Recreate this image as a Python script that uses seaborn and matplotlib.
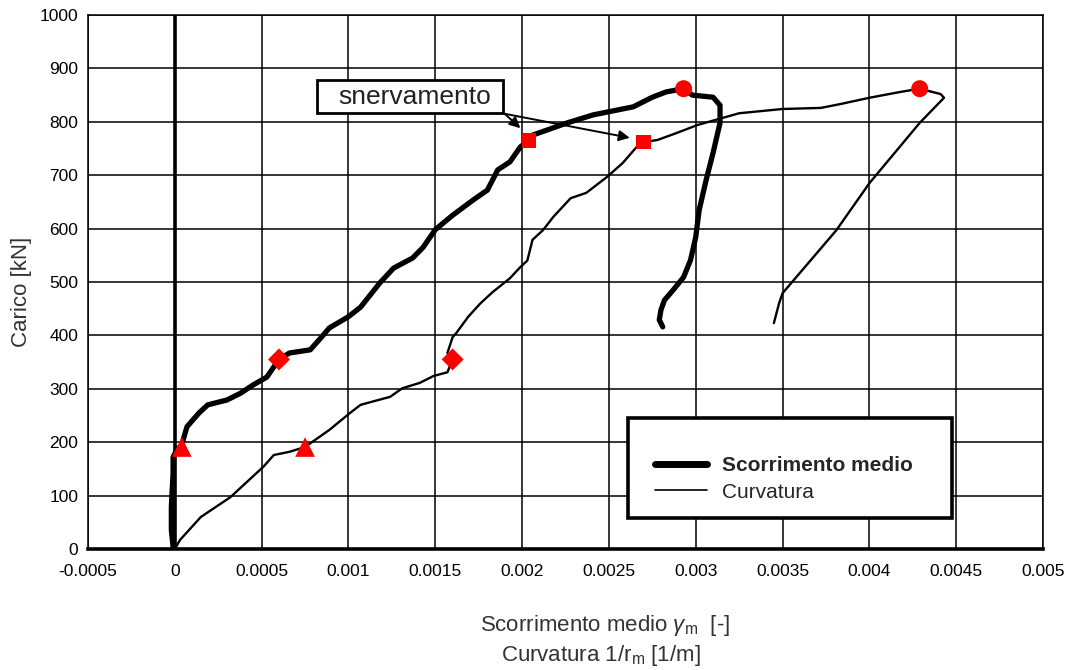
import matplotlib
matplotlib.use("Agg")
import matplotlib.pyplot as plt
from matplotlib.lines import Line2D
from matplotlib.patches import Rectangle
import numpy as np
import pandas as pd
import seaborn as sns

# Scorrimento medio (gamma_m) vs carico
scorr_x = [0, -0.00001, -0.00002, -0.00002, -0.00001, -0.00001, 0.00001, 0.00004,
           0.00007, 0.00014, 0.00019, 0.0003, 0.00038, 0.00045, 0.00053, 0.0006,
           0.00066, 0.00078, 0.00084, 0.00089, 0.001, 0.00107, 0.00118, 0.00126,
           0.00137, 0.00143, 0.0015, 0.0016, 0.00172, 0.0018, 0.00186, 0.00193,
           0.00199, 0.00204, 0.00206, 0.00226, 0.00241, 0.00264, 0.00275, 0.00283,
           0.00293, 0.00298, 0.0031, 0.00314, 0.00314, 0.0031, 0.00306, 0.00302,
           0.003, 0.00297, 0.00293, 0.00287, 0.00282, 0.0028, 0.00279, 0.00281]
scorr_y = [0, 4, 36, 79, 142, 172, 185, 195,
           229, 255, 270, 279, 292, 307, 322, 355,
           367, 373, 395, 414, 435, 453, 498, 526,
           545, 565, 598, 625, 654, 672, 710, 725,
           753, 765, 775, 798, 813, 828, 846, 856,
           862, 850, 846, 831, 798, 742, 691, 635,
           584, 541, 509, 485, 466, 448, 429, 416]

# Curvatura 1/r_m vs carico
curv_x = [0, 0.00003, 0.00015, 0.00032, 0.00051, 0.00057, 0.00066, 0.00075,
          0.00089, 0.00101, 0.00107, 0.00124, 0.00131, 0.00141, 0.00149, 0.00157,
          0.0016, 0.00157, 0.0016, 0.00162, 0.00169, 0.00176, 0.00183, 0.00193,
          0.00199, 0.00203, 0.00206, 0.00212, 0.00218, 0.00228, 0.00237, 0.00249,
          0.00258, 0.00266, 0.0027, 0.00278, 0.00289, 0.00301, 0.00325, 0.0035,
          0.00372, 0.00383, 0.004, 0.00418, 0.00429, 0.00441, 0.00443, 0.00429,
          0.004, 0.00381, 0.0035, 0.00348, 0.00345]
curv_y = [0, 17, 60, 97, 154, 176, 182, 191,
          223, 255, 270, 285, 301, 311, 324, 331,
          355, 367, 397, 404, 435, 460, 481, 507,
          528, 540, 579, 597, 622, 657, 667, 697,
          723, 753, 762, 766, 779, 794, 816, 824,
          826, 833, 845, 856, 862, 852, 845, 798,
          685, 597, 479, 460, 423]

# Punti notevoli (triangolo, rombo, quadrato = snervamento, cerchio = massimo)
key_stage = ["tri", "dia", "sq", "circ", "tri", "dia", "sq", "circ"]
key_x = [0.00004, 0.0006, 0.00204, 0.00293, 0.00075, 0.0016, 0.0027, 0.00429]
key_y = [191, 355, 765, 862, 191, 355, 762, 862]

x_ticks = [-0.0005, 0, 0.0005, 0.001, 0.0015, 0.002, 0.0025, 0.003, 0.0035,
           0.004, 0.0045, 0.005]
x_tick_labels = ["-0.0005", "0", "0.0005", "0.001", "0.0015", "0.002", "0.0025",
                 "0.003", "0.0035", "0.004", "0.0045", "0.005"]
y_ticks = [0, 100, 200, 300, 400, 500, 600, 700, 800, 900, 1000]

series_names = ["Scorrimento medio", "Curvatura"]

sns.set_style("white")
plt.rcParams["font.family"] = ["Liberation Sans", "DejaVu Sans"]
plt.rcParams["mathtext.fontset"] = "custom"
plt.rcParams["mathtext.rm"] = "Liberation Sans"
plt.rcParams["mathtext.it"] = "Liberation Sans:italic"

curves = pd.concat([
    pd.DataFrame({"x": scorr_x, "y": scorr_y, "serie": series_names[0]}),
    pd.DataFrame({"x": curv_x, "y": curv_y, "serie": series_names[1]}),
], ignore_index=True)
keys = pd.DataFrame({"x": key_x, "y": key_y, "stage": key_stage})

fig = plt.figure(figsize=(10.66, 6.70), dpi=100)
ax = fig.add_axes([88 / 1066, 1 - 549 / 670, (1043 - 88) / 1066, (549 - 15) / 670])

ax.set_xlim(-0.0005, 0.005)
ax.set_ylim(0, 1000)
ax.set_xticks(x_ticks)
ax.set_xticklabels(x_tick_labels)
ax.set_yticks(y_ticks)
ax.grid(True, color="black", lw=1.1, zorder=0)
ax.set_axisbelow(True)
ax.tick_params(axis="both", length=0, labelsize=12.5, colors="black")
ax.tick_params(axis="x", pad=11)
ax.tick_params(axis="y", pad=7)
for s in ax.spines.values():
    s.set_color("black")
    s.set_linewidth(1.1)
ax.spines["bottom"].set_linewidth(2.6)
ax.axvline(0, color="black", lw=2.6, zorder=1)

sns.lineplot(data=curves, x="x", y="y", hue="serie", size="serie",
             palette={series_names[0]: "black", series_names[1]: "black"},
             sizes={series_names[0]: 3.8, series_names[1]: 1.7},
             sort=False, estimator=None, legend=False, ax=ax, zorder=3)

sns.scatterplot(data=keys, x="x", y="y", style="stage",
                markers={"tri": "^", "dia": "D", "sq": "s", "circ": "o"},
                size="stage", sizes={"tri": 200, "dia": 125, "sq": 110, "circ": 150},
                color="red", edgecolor="none", legend=False, ax=ax, zorder=5)

ax.set_xlabel("")
ax.set_ylabel("")

# Riquadro "snervamento" con frecce verso i punti di snervamento
ax.add_patch(Rectangle((0.00082, 816), 0.00189 - 0.00082, 878 - 816,
                       facecolor="white", edgecolor="black", lw=2.0, zorder=6))
ax.text(0.00138, 846, "snervamento", fontsize=19, color="#222222",
        ha="center", va="center", zorder=7)
arrow = dict(arrowstyle="-|>", color="black", lw=1.4, mutation_scale=16,
             shrinkA=0, shrinkB=0)
ax.annotate("", xy=(0.00199, 788), xytext=(0.00190, 815), arrowprops=arrow, zorder=6)
ax.annotate("", xy=(0.00262, 770), xytext=(0.00190, 815), arrowprops=arrow, zorder=6)

# Legenda in riquadro bianco
ax.add_patch(Rectangle((0.5654, 0.058), 0.3393, 0.1873, transform=ax.transAxes,
                       facecolor="white", edgecolor="black", lw=2.6, zorder=6))
handles = [Line2D([], [], color="black", lw=5.0), Line2D([], [], color="black", lw=1.2)]
leg = ax.legend(handles, series_names, loc="upper left",
                bbox_to_anchor=(0.5937, 0.1745), frameon=False, fontsize=15,
                borderpad=0, handlelength=2.5, handletextpad=0.7, labelspacing=0.38,
                borderaxespad=0)
leg.set_zorder(8)
leg.get_texts()[0].set_fontweight("bold")

fig.text(22 / 1066, 1 - 292 / 670, "Carico [kN]", rotation=90, ha="center",
         va="center", fontsize=16, color="#333333")
fig.text(605 / 1066, 1 - 626 / 670, r"Scorrimento medio $\gamma_{\rm m}$  [-]",
         ha="center", va="center", fontsize=16, color="#333333")
fig.text(601 / 1066, 1 - 655 / 670, r"Curvatura 1/r$_{\rm m}$ [1/m]",
         ha="center", va="center", fontsize=16, color="#333333")

fig.savefig("out.png", dpi=100)
